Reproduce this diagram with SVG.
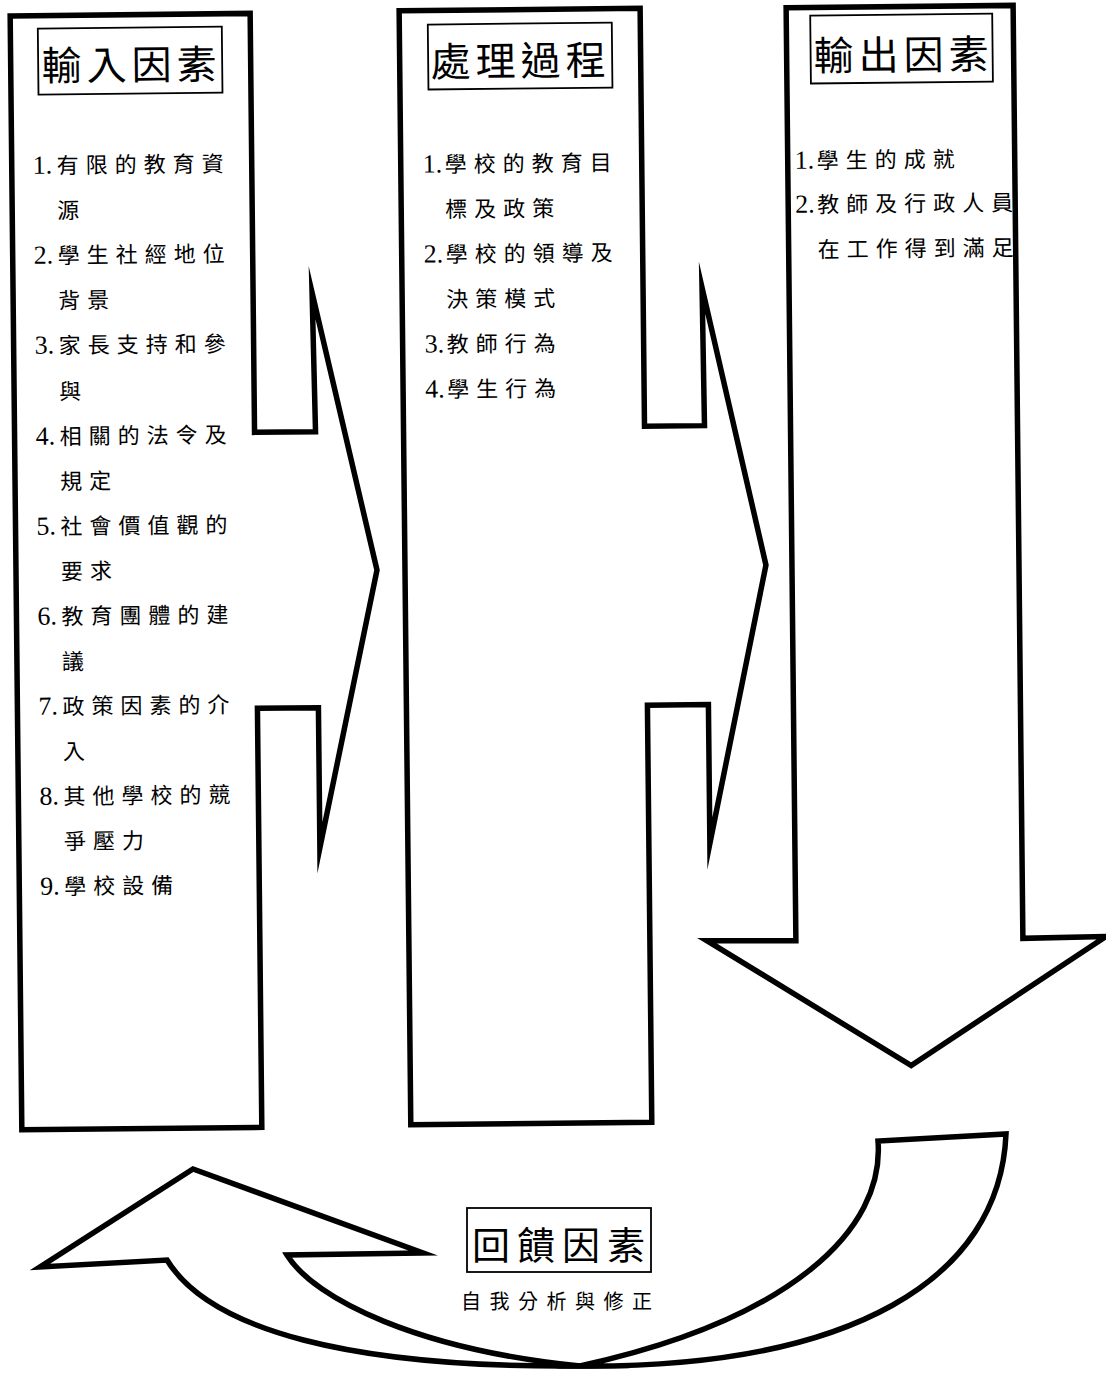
<svg xmlns="http://www.w3.org/2000/svg" width="1106" height="1373" viewBox="0 0 1106 1373">
<style>
.shape{fill:#fff;stroke:#000;stroke-width:5.5;stroke-linejoin:miter;stroke-miterlimit:20}
.lbl{fill:#fff;stroke:#000;stroke-width:1.8}
.t{font-family:"Noto Sans CJK TC","Noto Sans CJK SC",sans-serif;font-size:40px;letter-spacing:5px;fill:#000}
.i{font-family:"Liberation Serif","Noto Sans CJK TC",serif;font-size:22px;fill:#000}
.n{font-size:26px}
.c{font-family:"Noto Sans CJK TC","Noto Sans CJK SC",sans-serif;letter-spacing:7px}
.s{font-family:"Noto Sans CJK TC","Noto Sans CJK SC",sans-serif;font-size:20px;letter-spacing:8.5px;fill:#000}
</style>
<rect width="1106" height="1373" fill="#fff"/>

<g id="input" transform="rotate(-0.6)">
<path class="shape" d="M10,16 L250,16 L250,435 L311,435 L309,296 L371,574 L311,851 L311,711 L250,711 L250,1130 L10,1130 Z"/>
<rect class="lbl" x="37.5" y="29" width="184" height="66"/>
<text class="t" x="41" y="81">輸入因素</text>
<text class="i" y="174"><tspan class="n" x="31">1.</tspan><tspan class="c" x="55">有限的教育資</tspan></text>
<text class="i" y="219"><tspan class="c" x="55">源</tspan></text>
<text class="i" y="264"><tspan class="n" x="31">2.</tspan><tspan class="c" x="55">學生社經地位</tspan></text>
<text class="i" y="309"><tspan class="c" x="55">背景</tspan></text>
<text class="i" y="354"><tspan class="n" x="31">3.</tspan><tspan class="c" x="55">家長支持和參</tspan></text>
<text class="i" y="400"><tspan class="c" x="55">與</tspan></text>
<text class="i" y="445"><tspan class="n" x="31">4.</tspan><tspan class="c" x="55">相關的法令及</tspan></text>
<text class="i" y="490"><tspan class="c" x="55">規定</tspan></text>
<text class="i" y="535"><tspan class="n" x="31">5.</tspan><tspan class="c" x="55">社會價值觀的</tspan></text>
<text class="i" y="580"><tspan class="c" x="55">要求</tspan></text>
<text class="i" y="625"><tspan class="n" x="31">6.</tspan><tspan class="c" x="55">教育團體的建</tspan></text>
<text class="i" y="670"><tspan class="c" x="55">議</tspan></text>
<text class="i" y="715"><tspan class="n" x="31">7.</tspan><tspan class="c" x="55">政策因素的介</tspan></text>
<text class="i" y="760"><tspan class="c" x="55">入</tspan></text>
<text class="i" y="805"><tspan class="n" x="31">8.</tspan><tspan class="c" x="55">其他學校的競</tspan></text>
<text class="i" y="850"><tspan class="c" x="55">爭壓力</tspan></text>
<text class="i" y="895"><tspan class="n" x="31">9.</tspan><tspan class="c" x="55">學校設備</tspan></text>
</g>

<g id="process" transform="rotate(-0.6)">
<path class="shape" d="M399,15 L640,15 L640,433 L700,433 L699,295 L760,573 L701,851 L701,712 L640,712 L640,1129 L399,1129 Z"/>
<rect class="lbl" x="427.5" y="29" width="184" height="65"/>
<text class="t" x="430" y="81">處理過程</text>
<text class="i" y="177"><tspan class="n" x="421">1.</tspan><tspan class="c" x="443">學校的教育目</tspan></text>
<text class="i" y="222"><tspan class="c" x="443">標及政策</tspan></text>
<text class="i" y="267"><tspan class="n" x="421">2.</tspan><tspan class="c" x="443">學校的領導及</tspan></text>
<text class="i" y="312"><tspan class="c" x="443">決策模式</tspan></text>
<text class="i" y="357"><tspan class="n" x="421">3.</tspan><tspan class="c" x="443">教師行為</tspan></text>
<text class="i" y="402"><tspan class="n" x="421">4.</tspan><tspan class="c" x="443">學生行為</tspan></text>
</g>

<g id="output" transform="rotate(-0.6)">
<path class="shape" d="M786,16 L1013,16 L1013,949 L1096,948 L900,1075 L697,948 L786,949 Z"/>
<rect class="lbl" x="810" y="24" width="182" height="68"/>
<text class="t" x="813" y="79">輸出因素</text>
<text class="i" y="177"><tspan class="n" x="793">1.</tspan><tspan class="c" x="815">學生的成就</tspan></text>
<text class="i" y="221"><tspan class="n" x="793">2.</tspan><tspan class="c" x="815">教師及行政人員</tspan></text>
<text class="i" y="266"><tspan class="c" x="815">在工作得到滿足</tspan></text>
</g>

<g id="connectors">
<path class="shape" d="M580,1366 C350,1368 210,1330 167,1260 L40,1267 L193,1169 L423,1253 L287,1255 C315,1300 420,1350 580,1366 Z"/>
<path class="shape" d="M1006,1134 C1000,1280 850,1368 580,1366 C790,1320 885,1230 878,1141 Z"/>
</g>

<g id="feedback">
<rect class="lbl" x="467" y="1208" width="184" height="64"/>
<text class="t" x="472" y="1259" style="font-size:38px;letter-spacing:7px">回饋因素</text>
<text class="s" x="461" y="1309">自我分析與修正</text>
</g>
</svg>
